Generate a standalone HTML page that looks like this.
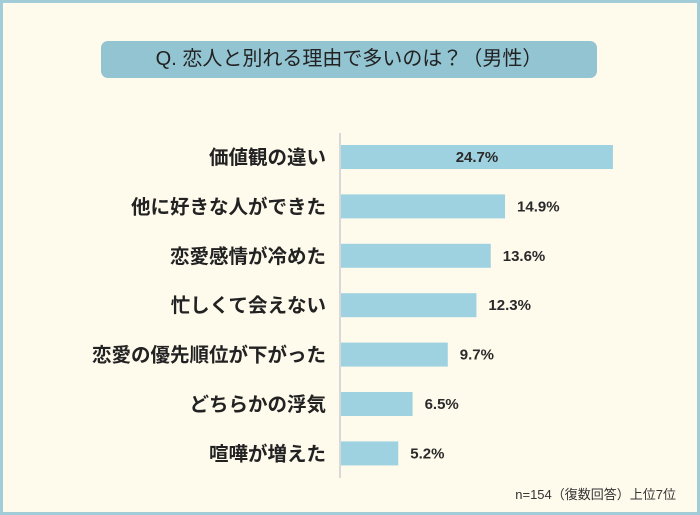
<!DOCTYPE html>
<html><head><meta charset="utf-8">
<style>
body{margin:0;}
#wrap{position:relative;width:700px;height:515px;background:#fefaec;box-sizing:border-box;border:3px solid #a3ccd9;overflow:hidden;font-family:"Liberation Sans","Noto Sans CJK JP",sans-serif;}
#title{position:absolute;left:98px;top:38px;width:496px;height:37px;background:#93c4d2;border-radius:7px;color:#222;font-size:20px;line-height:37px;text-align:center;}
#foot{position:absolute;right:21px;top:481px;font-size:13px;color:#333;}
</style></head><body>
<div id="wrap">
<div id="title">Q. 恋人と別れる理由で多いのは？（男性）</div>
<svg id="chart" width="700" height="515" style="position:absolute;left:-3px;top:-3px"></svg>
<div id="foot">n=154（復数回答）上位7位</div>
</div>
<script>
const categories=["価値観の違い","他に好きな人ができた","恋愛感情が冷めた","忙しくて会えない","恋愛の優先順位が下がった","どちらかの浮気","喧嘩が増えた"];
const values=[24.7,14.9,13.6,12.3,9.7,6.5,5.2];
const valueLabels=["24.7%","14.9%","13.6%","12.3%","9.7%","6.5%","5.2%"];
const NS="http://www.w3.org/2000/svg";
const svg=document.getElementById('chart');
const x0=341,pxPer=11.01,y0=157,step=49.4,bh=24;
const xs=v=>x0+v*pxPer;
const ys=i=>y0+i*step;
function mk(t,a){const e=document.createElementNS(NS,t);for(const k in a)e.setAttribute(k,a[k]);svg.appendChild(e);return e;}
const ax=mk('line',{x1:340,x2:340,y1:133,y2:478,stroke:'#d8d8d8','stroke-width':2});


categories.forEach((c,i)=>{
  const y=ys(i);
  const r=mk('rect',{x:x0,y:y-bh/2,width:xs(values[i])-x0,height:bh,fill:'#9fd2e1'});
  
  
  const l=mk('text',{x:326,y:y+7,'text-anchor':'end','font-size':19.5,'font-weight':'bold',fill:'#222'});
  l.textContent=c;
  
  
  const inside=i===0;
  const v=mk('text',{x:inside?(x0+xs(values[i]))/2:xs(values[i])+12,y:y+5,'text-anchor':inside?'middle':'start','font-size':15,'font-weight':'bold',fill:'#2a2a2a'});
  v.textContent=valueLabels[i];
  
  
});
</script>
</body></html>
